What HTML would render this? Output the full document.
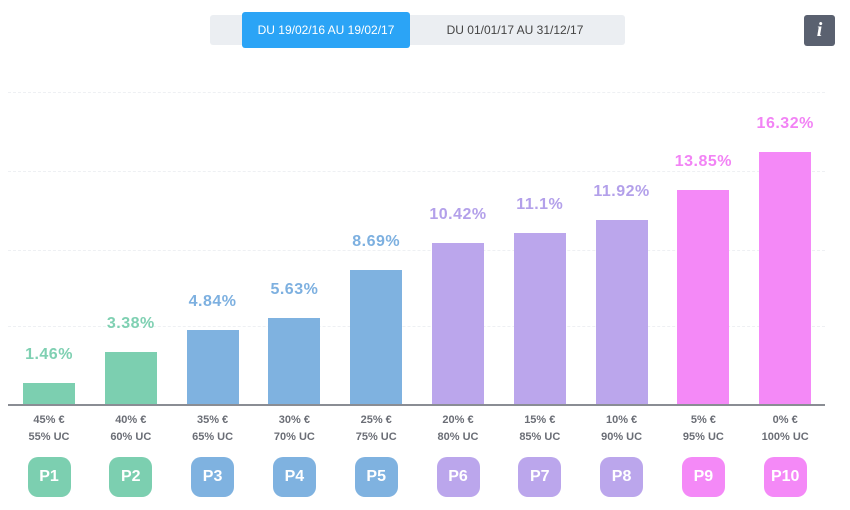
<!DOCTYPE html><html><head><style>
body{margin:0;width:850px;height:510px;background:#fff;font-family:"Liberation Sans",sans-serif;position:relative;overflow:hidden}
.a{position:absolute}
.bar{position:absolute;width:52px}
.v{position:absolute;width:100px;text-align:center;font-size:16px;letter-spacing:0.5px;font-weight:bold}
.l{position:absolute;width:80px;text-align:center;font-size:11px;color:#6b6e76;line-height:17px;font-weight:bold}
.b{position:absolute;width:43px;height:40px;border-radius:10px;color:#fff;font-weight:bold;font-size:16px;text-align:center;line-height:40px;top:457px}
.g{position:absolute;left:8px;width:817px;border-top:1px dashed #eef0f3}
</style></head><body>
<div class="a" style="left:210px;top:15px;width:415px;height:30px;background:#ebeef2;border-radius:3px"></div>
<div class="a" style="left:242px;top:12px;width:168px;height:36px;background:#2ba4f6;border-radius:3px;color:#fff;font-size:12px;line-height:36px;text-align:center">DU 19/02/16 AU 19/02/17</div>
<div class="a" style="left:420px;top:15px;width:190px;height:30px;color:#444;font-size:12px;line-height:30px;text-align:center">DU 01/01/17 AU 31/12/17</div>
<div class="a" style="left:804px;top:15px;width:31px;height:31px;background:#5a6170;border-radius:3px;color:#fff;font:bold italic 20px 'Liberation Serif',serif;text-align:center;line-height:31px">i</div>
<div class="g" style="top:92px"></div><div class="g" style="top:171px"></div><div class="g" style="top:250px"></div><div class="g" style="top:326px"></div>
<div class="a" style="left:8px;top:404px;width:817px;height:2px;background:#8a8d94"></div>
<div id="c"></div>
<script>
var d=[[1.46,383,'#7ccfb0','#7fd0b2'],[3.38,352,'#7ccfb0','#7fd0b2'],[4.84,330,'#7fb2e0','#7db0e0'],[5.63,318,'#7fb2e0','#7db0e0'],[8.69,270,'#7fb2e0','#7db0e0'],[10.42,243,'#bba6ec','#b3a0ea'],[11.1,233,'#bba6ec','#b3a0ea'],[11.92,220,'#bba6ec','#b3a0ea'],[13.85,190,'#f489f7','#f283f5'],[16.32,152,'#f489f7','#f283f5']];
var h='';
for(var i=0;i<10;i++){var x=23+i*81.8,c=x+26,t=d[i];
h+='<div class="bar" style="left:'+x+'px;top:'+t[1]+'px;height:'+(404-t[1])+'px;background:'+t[2]+'"></div>';
h+='<div class="v" style="left:'+(c-50)+'px;top:'+(t[1]-37)+'px;color:'+t[3]+'">'+t[0]+'%</div>';
h+='<div class="l" style="left:'+(c-40)+'px;top:412px">'+(45-5*i)+'% €<br>'+(55+5*i)+'% UC</div>';
h+='<div class="b" style="left:'+(c-21.5)+'px;background:'+t[2]+'">P'+(i+1)+'</div>';}
document.getElementById('c').innerHTML=h;
</script>
</body></html>
